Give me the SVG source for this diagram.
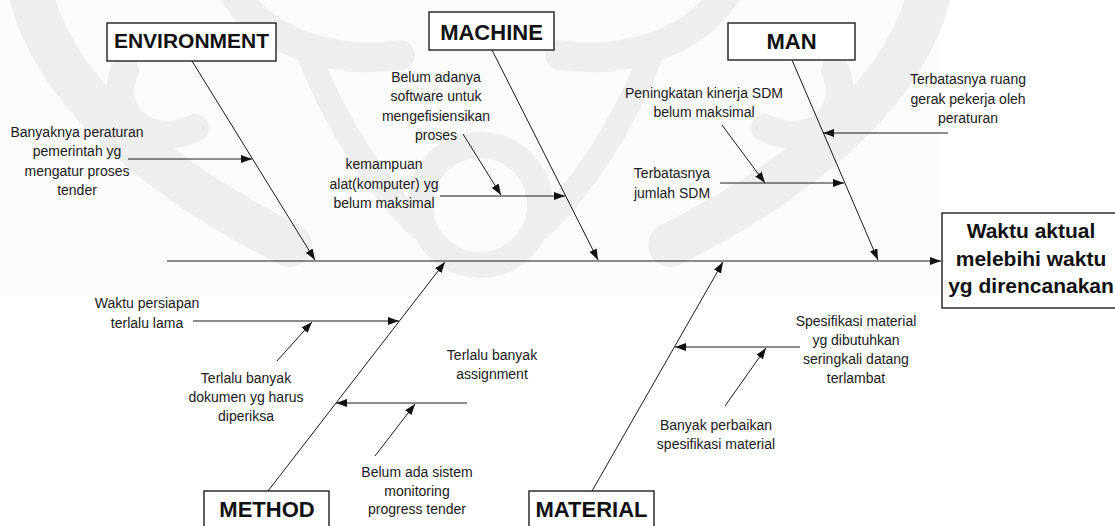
<svg xmlns="http://www.w3.org/2000/svg" width="1115" height="526" viewBox="0 0 1115 526">
  <style>
    .box { fill: #ffffff; stroke: #1e1e1e; stroke-width: 1.4; }
    .cat { font-family: "Liberation Sans", Arial, sans-serif; font-weight: bold; font-size: 22px; fill: #111; text-anchor: middle; }
    .eff { font-family: "Liberation Sans", Arial, sans-serif; font-weight: bold; font-size: 21px; fill: #111; text-anchor: middle; }
    .lbl { font-family: "Liberation Sans", Arial, sans-serif; font-size: 14px; fill: #1a1a1a; text-anchor: middle; }
    .ln { stroke: #1a1a1a; stroke-width: 1; fill: none; marker-end: url(#arrow); }
    .wm { fill: none; stroke: #eeeeee; stroke-linecap: round; }
  </style>
  <defs>
    <marker id="arrow" markerUnits="userSpaceOnUse" viewBox="0 0 11 8" refX="11" refY="4" markerWidth="11" markerHeight="8" orient="auto">
      <path d="M0,0 L11,4 L0,8 z" fill="#111"/>
    </marker>
    <!-- one half of the faint emblem behind the chart; mirrored below -->
    <g id="emblem-half">
      <path class="wm" stroke-width="44" d="M 30 -10 C 50 80, 140 170, 290 245"/>
      <path class="wm" stroke-width="28" d="M 125 70 C 105 115, 150 150, 195 128"/>
      <path class="wm" stroke-width="30" d="M 235 -5 C 265 40, 330 65, 400 55"/>
      <path class="wm" stroke-width="24" d="M 305 45 C 335 125, 380 190, 420 228"/>
    </g>
  </defs>

  <rect width="1115" height="526" fill="#ffffff"/>

  <!-- faint emblem in the background -->
  <g id="backdrop">
    <rect x="0" y="0" width="940" height="296" fill="#fbfbfb"/>
    <use href="#emblem-half"/>
    <use href="#emblem-half" transform="translate(960,0) scale(-1,1)"/>
    <circle class="wm" cx="480" cy="205" r="60" stroke-width="26"/>
  </g>

  <!-- bones and cause arrows -->
  <g id="connectors">
    <line class="ln" x1="167" y1="261" x2="941" y2="261"/>
    <line class="ln" x1="192" y1="61" x2="315" y2="260"/>
    <line class="ln" x1="492" y1="50" x2="598" y2="260"/>
    <line class="ln" x1="792" y1="60" x2="878" y2="260"/>
    <line class="ln" x1="268" y1="491" x2="445" y2="262"/>
    <line class="ln" x1="592" y1="491" x2="723" y2="262"/>

    <line class="ln" x1="128" y1="159" x2="252" y2="159"/>
    <line class="ln" x1="463" y1="134" x2="501" y2="195"/>
    <line class="ln" x1="440" y1="196" x2="565" y2="196"/>
    <line class="ln" x1="722" y1="125" x2="765" y2="183"/>
    <line class="ln" x1="720" y1="183" x2="844" y2="183"/>
    <line class="ln" x1="948" y1="133" x2="823" y2="133"/>

    <line class="ln" x1="193" y1="321" x2="399" y2="321"/>
    <line class="ln" x1="277" y1="361" x2="312" y2="322"/>
    <line class="ln" x1="467" y1="403" x2="336" y2="403"/>
    <line class="ln" x1="375" y1="456" x2="415" y2="404"/>
    <line class="ln" x1="800" y1="347" x2="675" y2="347"/>
    <line class="ln" x1="725" y1="406" x2="766" y2="348"/>
  </g>

  <!-- category boxes -->
  <g id="environment">
    <rect class="box" x="107" y="23" width="169" height="38"/>
    <text class="cat" x="191.5" y="48" style="font-size:21px">ENVIRONMENT</text>
  </g>
  <g id="machine">
    <rect class="box" x="429" y="12" width="125" height="38"/>
    <text class="cat" x="491.5" y="40">MACHINE</text>
  </g>
  <g id="man">
    <rect class="box" x="728" y="23" width="127" height="37"/>
    <text class="cat" x="791.5" y="49">MAN</text>
  </g>
  <g id="method">
    <rect class="box" x="204" y="491" width="125" height="45"/>
    <text class="cat" x="267" y="517">METHOD</text>
  </g>
  <g id="material">
    <rect class="box" x="529" y="491" width="125" height="45"/>
    <text class="cat" x="591.5" y="517">MATERIAL</text>
  </g>

  <!-- effect -->
  <g id="effect">
    <rect class="box" x="942" y="213" width="180" height="95"/>
    <text class="eff" x="1031" y="238">Waktu aktual</text>
    <text class="eff" x="1031" y="266">melebihi waktu</text>
    <text class="eff" x="1031" y="293">yg direncanakan</text>
  </g>

  <!-- cause labels -->
  <g id="cause-peraturan">
    <text class="lbl" x="77" y="137">Banyaknya peraturan</text>
    <text class="lbl" x="77" y="156">pemerintah yg</text>
    <text class="lbl" x="77" y="176">mengatur proses</text>
    <text class="lbl" x="77" y="195">tender</text>
  </g>
  <g id="cause-software">
    <text class="lbl" x="436" y="82">Belum adanya</text>
    <text class="lbl" x="436" y="101">software untuk</text>
    <text class="lbl" x="436" y="121">mengefisiensikan</text>
    <text class="lbl" x="436" y="140">proses</text>
  </g>
  <g id="cause-komputer">
    <text class="lbl" x="384" y="169">kemampuan</text>
    <text class="lbl" x="384" y="189">alat(komputer) yg</text>
    <text class="lbl" x="384" y="208">belum maksimal</text>
  </g>
  <g id="cause-kinerja">
    <text class="lbl" x="704" y="98">Peningkatan kinerja SDM</text>
    <text class="lbl" x="704" y="117">belum maksimal</text>
  </g>
  <g id="cause-jumlah">
    <text class="lbl" x="672" y="178">Terbatasnya</text>
    <text class="lbl" x="672" y="198">jumlah SDM</text>
  </g>
  <g id="cause-ruang">
    <text class="lbl" x="968" y="84">Terbatasnya ruang</text>
    <text class="lbl" x="968" y="104">gerak pekerja oleh</text>
    <text class="lbl" x="968" y="123">peraturan</text>
  </g>
  <g id="cause-persiapan">
    <text class="lbl" x="147" y="308">Waktu persiapan</text>
    <text class="lbl" x="147" y="328">terlalu lama</text>
  </g>
  <g id="cause-dokumen">
    <text class="lbl" x="246" y="383">Terlalu banyak</text>
    <text class="lbl" x="246" y="402">dokumen yg harus</text>
    <text class="lbl" x="246" y="421">diperiksa</text>
  </g>
  <g id="cause-assignment">
    <text class="lbl" x="492" y="360">Terlalu banyak</text>
    <text class="lbl" x="492" y="379">assignment</text>
  </g>
  <g id="cause-monitoring">
    <text class="lbl" x="417" y="477">Belum ada sistem</text>
    <text class="lbl" x="417" y="496">monitoring</text>
    <text class="lbl" x="417" y="514">progress tender</text>
  </g>
  <g id="cause-spesifikasi">
    <text class="lbl" x="856" y="326">Spesifikasi material</text>
    <text class="lbl" x="856" y="345">yg dibutuhkan</text>
    <text class="lbl" x="856" y="364">seringkali datang</text>
    <text class="lbl" x="856" y="383">terlambat</text>
  </g>
  <g id="cause-perbaikan">
    <text class="lbl" x="716" y="430">Banyak perbaikan</text>
    <text class="lbl" x="716" y="449">spesifikasi material</text>
  </g>
</svg>
